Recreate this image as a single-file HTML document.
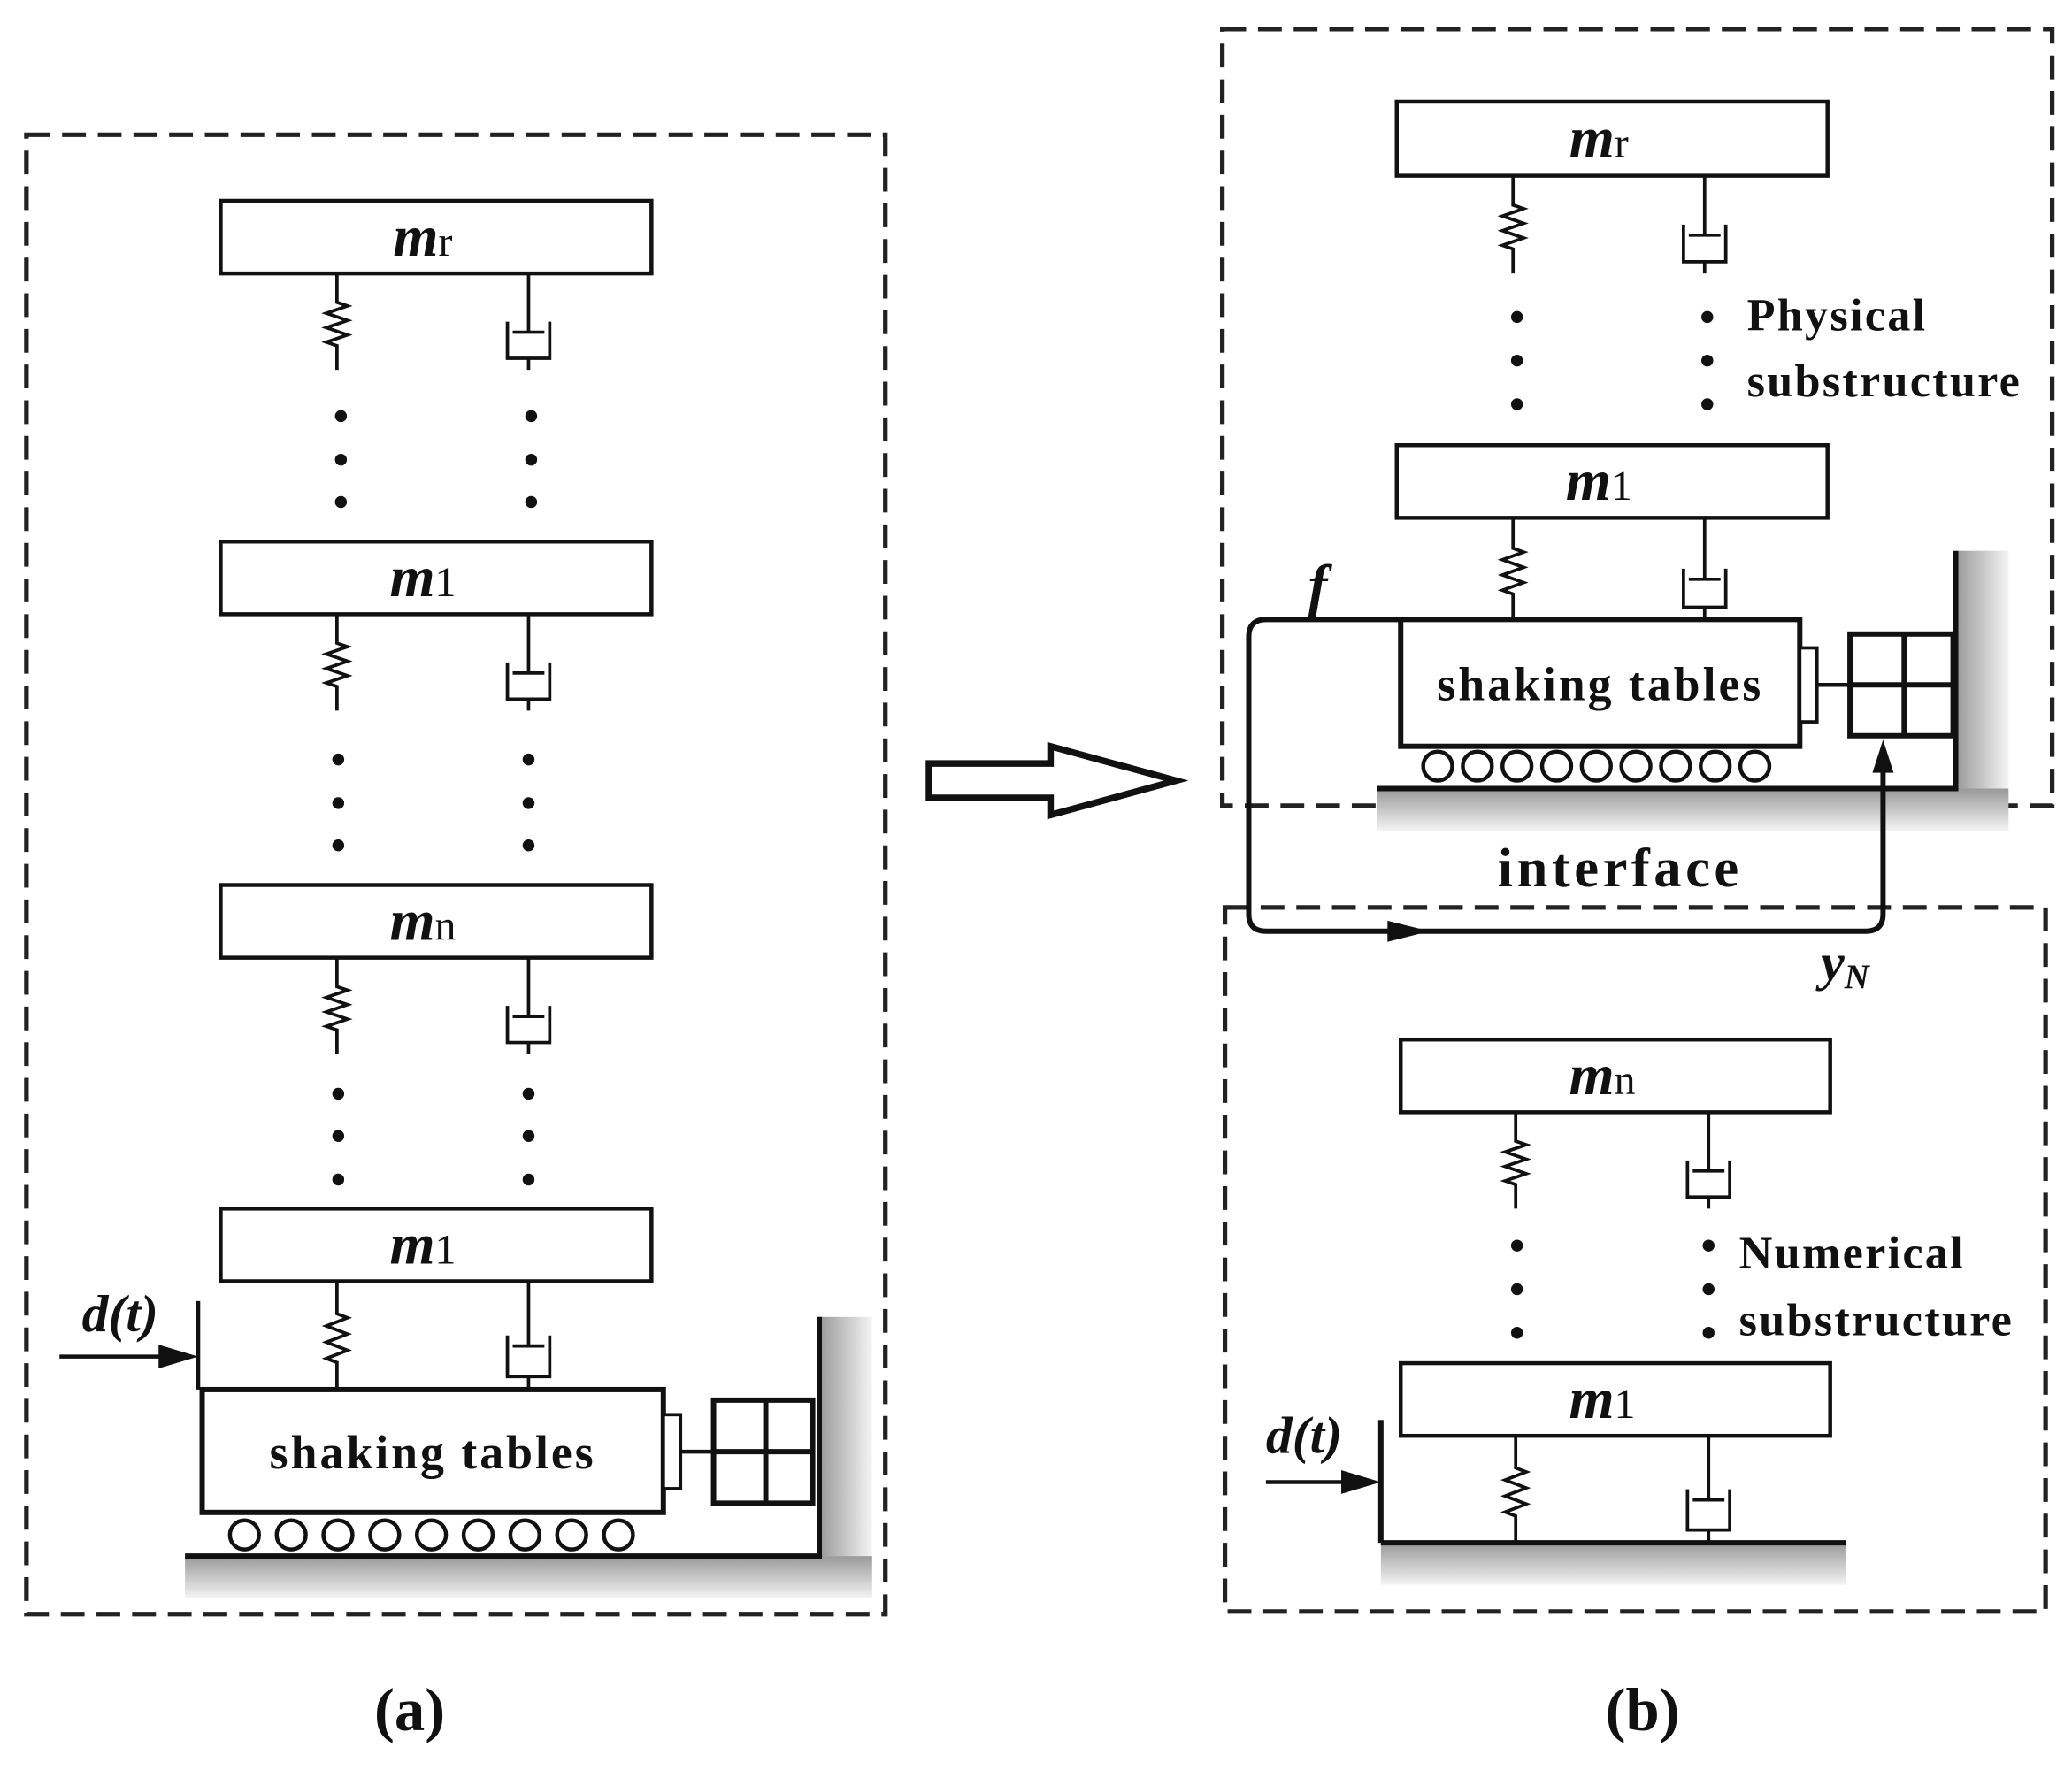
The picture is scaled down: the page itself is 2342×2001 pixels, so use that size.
<!DOCTYPE html>
<html><head><meta charset="utf-8"><style>
html,body{margin:0;padding:0;background:#fff}
svg{display:block}
text{font-family:"Liberation Serif",serif;font-weight:bold;fill:#111}
</style></head><body>
<svg id="s" width="2342" height="2001" viewBox="0 0 1568 1340" preserveAspectRatio="none" xmlns="http://www.w3.org/2000/svg">
<defs>
<linearGradient id="gsh" x1="0" y1="0" x2="0" y2="1"><stop offset="0" stop-color="#999"/><stop offset="1" stop-color="#f4f4f4"/></linearGradient>
<linearGradient id="wsh" x1="0" y1="0" x2="1" y2="0"><stop offset="0" stop-color="#999"/><stop offset="1" stop-color="#f4f4f4"/></linearGradient>
</defs>
<g fill="none" stroke="#222" stroke-width="3.5" stroke-dasharray="18,9">
<rect x="20" y="102" width="650" height="1120"/>
<rect x="925" y="22" width="628" height="588"/>
<rect x="927" y="687" width="621" height="533"/>
</g>
<g id="g"></g>
<path d="M703,578 L795,578 L795,565 L890,591 L795,617 L795,604 L703,604 Z" fill="#fff" stroke="#111" stroke-width="5"/>
<path d="M1060,469 L958,469 Q945,469 945,482 L945,692 Q945,705 958,705 L1412,705 Q1425,705 1425,692 L1425,578" fill="none" stroke="#111" stroke-width="4"/>
<path d="M1050,697 L1082,705 L1050,713 Z" fill="#111"/>
<path d="M1417,585 L1425,560 L1433,585 Z" fill="#111"/>
<text x="990" y="458" font-size="44" font-style="italic">f</text>
<text x="1226" y="671" font-size="42" text-anchor="middle" letter-spacing="3">interface</text>
<text x="1378" y="742" font-size="40" font-style="italic">y<tspan font-size="26" dy="6">N</tspan></text>
<text x="1322" y="250" font-size="35" letter-spacing="1.5">Physical</text>
<text x="1322" y="300" font-size="35" letter-spacing="1.5">substructure</text>
<text x="1316" y="960" font-size="35" letter-spacing="1.5">Numerical</text>
<text x="1316" y="1011" font-size="35" letter-spacing="1.5">substructure</text>
<text x="310" y="1310" font-size="46" text-anchor="middle">(a)</text>
<text x="1243" y="1310" font-size="46" text-anchor="middle">(b)</text>
<text x="62" y="1008" font-size="40" font-style="italic">d(t)</text>
<text x="958" y="1100" font-size="40" font-style="italic">d(t)</text>
</svg>
<script>
const g=document.getElementById('g');let h='';
function mass(x1,x2,y1,y2,sub){h+=`<rect x="${x1}" y="${y1}" width="${x2-x1}" height="${y2-y1}" fill="#fff" stroke="#111" stroke-width="3"/>`;
h+=`<text x="${(x1+x2)/2-10}" y="${(y1+y2)/2+14}" font-size="44" text-anchor="middle"><tspan font-style="italic">m</tspan><tspan font-size="32" font-weight="normal">${sub}</tspan></text>`;}
function spring(x,y1,y2){const a=y1+(y2-y1)*0.3,b=y1+(y2-y1)*0.75;let p=`M${x},${y1} L${x},${a}`;const n=6,st=(b-a)/n;for(let i=0;i<n;i++){p+=` L${x+(i%2?-8:8)},${a+st*(i+0.5)}`;}p+=` L${x},${b} L${x},${y2}`;h+=`<path d="${p}" fill="none" stroke="#111" stroke-width="2.5"/>`;}
function damper(x,y1,y2){const c1=y1+(y2-y1)*0.5,c2=y1+(y2-y1)*0.88;h+=`<path d="M${x},${y1} L${x},${c1+8} M${x-12},${c1+8} L${x+12},${c1+8} M${x-16},${c1} L${x-16},${c2} L${x+16},${c2} L${x+16},${c1} M${x},${c2} L${x},${y2}" fill="none" stroke="#111" stroke-width="2.5"/>`;}
function dots(x,ys){ys.forEach(y=>h+=`<circle cx="${x}" cy="${y}" r="4.5" fill="#111"/>`);}
function table(x1,x2,y1,y2,rx1,rx2,ry,n,gx1,gx2,gy,wx,wy,ax,ab1,ab2,ay1,ay2){
h+=`<rect x="${gx1}" y="${gy}" width="${gx2-gx1}" height="32" fill="url(#gsh)"/><rect x="${wx}" y="${wy}" width="40" height="${gy-wy}" fill="url(#wsh)"/>`;
h+=`<rect x="${x1}" y="${y1}" width="${x2-x1}" height="${y2-y1}" fill="#fff" stroke="#111" stroke-width="4"/>`;
h+=`<text x="${(x1+x2)/2}" y="${(y1+y2)/2+13}" font-size="36" letter-spacing="2" text-anchor="middle">shaking tables</text>`;
const st=(rx2-rx1)/(n-1);for(let i=0;i<n;i++)h+=`<circle cx="${rx1+st*i}" cy="${ry}" r="11" fill="#fff" stroke="#111" stroke-width="3"/>`;
h+=`<path d="M${gx1},${gy} L${wx},${gy} L${wx},${wy}" fill="none" stroke="#111" stroke-width="4"/>`;
const my=(ay1+ay2)/2;h+=`<rect x="${x2}" y="${my-28}" width="13" height="56" fill="#fff" stroke="#111" stroke-width="2.5"/><path d="M${x2+13},${my} L${ab1},${my}" stroke="#111" stroke-width="3"/>`;
h+=`<rect x="${ab1}" y="${ay1}" width="${ab2-ab1}" height="${ay2-ay1}" fill="#fff" stroke="#111" stroke-width="4"/><path d="M${ab1},${my} L${ab2},${my} M${(ab1+ab2)/2+2},${ay1} L${(ab1+ab2)/2+2},${ay2}" stroke="#111" stroke-width="4"/>`;}
table(153,502,1052,1145,185,468,1162,9,140,660,1178,620,997,0,540,615,1060,1138);
[[152,207,'r'],[410,465,'1'],[670,725,'n'],[915,970,'1']].forEach(m=>mass(167,493,m[0],m[1],m[2]));
[[207,280],[465,538],[725,798],[970,1052]].forEach(s=>{spring(255,s[0],s[1]);damper(400,s[0],s[1]);});
dots(258,[315,348,380]);dots(402,[315,348,380]);dots(256,[575,608,640]);dots(400,[575,608,640]);dots(256,[828,860,893]);dots(400,[828,860,893]);
h+=`<path d="M45,1027 L140,1027" stroke="#111" stroke-width="3"/><path d="M120,1018 L150,1027 L120,1036 Z" fill="#111"/><path d="M150,985 L150,1052" stroke="#111" stroke-width="3"/>`;
table(1060,1362,469,565,1088,1328,580,9,1042,1520,597,1480,417,0,1400,1478,480,557);
mass(1057,1383,77,133,'r');mass(1057,1383,337,392,'1');
spring(1145,133,207);damper(1290,133,207);spring(1145,392,469);damper(1290,392,469);
dots(1148,[240,273,306]);dots(1292,[240,273,306]);
h+=`<rect x="1045" y="1168" width="352" height="32" fill="url(#gsh)"/><path d="M1045,1168 L1397,1168 M1045,1075 L1045,1168" stroke="#111" stroke-width="4"/>`;
h+=`<path d="M958,1122 L1035,1122" stroke="#111" stroke-width="3"/><path d="M1015,1113 L1045,1122 L1015,1131 Z" fill="#111"/>`;
mass(1060,1385,787,842,'n');mass(1060,1385,1032,1087,'1');
spring(1147,842,915);damper(1293,842,915);spring(1147,1087,1168);damper(1293,1087,1168);
dots(1148,[943,976,1009]);dots(1293,[943,976,1009]);
g.innerHTML=h;
</script>
</body></html>
